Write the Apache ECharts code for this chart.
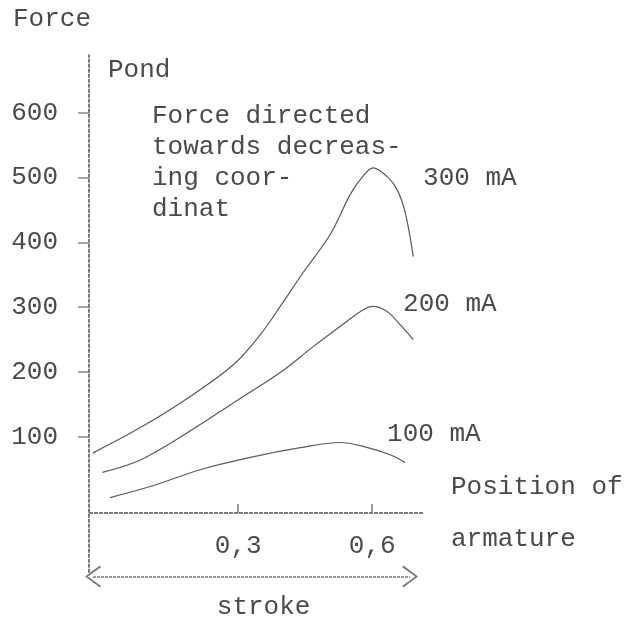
<!DOCTYPE html>
<html>
<head>
<meta charset="utf-8">
<script src="https://cdn.jsdelivr.net/npm/echarts@6/dist/echarts.min.js"></script>
<style>
  html, body { margin: 0; padding: 0; background: #fff; }
  #chart { width: 641px; height: 628px; }
</style>
</head>
<body>
<div id="chart"></div>
<script>
// Armature position (fraction of stroke) and force in pond for three coil currents
const pos300 = [-0.025, 0.081, 0.186, 0.289, 0.349, 0.401, 0.445, 0.506, 0.551, 0.578, 0.602, 0.634, 0.656, 0.674, 0.692];
const force300 = [75, 114, 159, 211, 257, 308, 353, 412, 474, 501, 515, 501, 481, 446, 378];

const pos200 = [-0.004, 0.081, 0.186, 0.289, 0.394, 0.468, 0.528, 0.580, 0.602, 0.634, 0.656, 0.692];
const force200 = [45, 64, 106, 152, 199, 239, 270, 296, 301, 293, 278, 250];

const pos100 = [0.013, 0.103, 0.215, 0.327, 0.439, 0.528, 0.580, 0.640, 0.674];
const force100 = [6, 23, 49, 68, 83, 91, 85, 72, 60];

const currents = ['300 mA', '200 mA', '100 mA'];
const peakIndex = [10, 8, 5];

const yTicks = [100, 200, 300, 400, 500, 600];
const xTicks = [0.3, 0.6];
const xRange = [-0.034, 0.716];
const yRange = [-200, 700];
const forceAxisSpan = [-110, 690];   // drawn extent of the force axis
const xAxisLevel = -17;              // value where the position axis is drawn
const strokeSpan = [-0.025, 0.685];
const strokeLevel = -116;

const FONT = '"Liberation Mono", "DejaVu Sans Mono", monospace';
const INK = '#4a4a4a';
const AXIS = '#7a7a7a';
const FS = 26;

function pairs(xs, ys) { return xs.map((x, i) => [x, ys[i]]); }

const labelOffsets = [[50, 10], [30, -2], [47, -8]];

function curve(idx, xs, ys) {
  const data = pairs(xs, ys).map((p, i) => {
    if (i !== peakIndex[idx]) return p;
    return {
      value: p,
      label: {
        show: true, position: 'right', distance: 0,
        offset: labelOffsets[idx],
        formatter: currents[idx],
        fontFamily: FONT, fontSize: FS, color: INK
      }
    };
  });
  return {
    name: currents[idx], type: 'line', smooth: 0.35, clip: false,
    showSymbol: true, symbol: 'circle', symbolSize: 0,
    lineStyle: { color: '#5a5a5a', width: 1.2 },
    itemStyle: { color: '#5a5a5a' },
    emphasis: { disabled: true },
    data: data
  };
}

const chevron = 'path://M10,0 L20,13 L18.6,14 L10,2.6 L1.4,14 L0,13 Z';

const series = [
  curve(0, pos300, force300),
  curve(1, pos200, force200),
  curve(2, pos100, force100)
];

// force axis and position axis lines
series[0].markLine = {
  silent: true, animation: false,
  symbol: ['none', 'none'],
  lineStyle: { color: AXIS, width: 2, type: [4, 1] },
  label: { show: false },
  data: [
    [{ coord: [xRange[0], xAxisLevel] }, { coord: [xRange[1], xAxisLevel] }],
    [{ coord: [xRange[0], forceAxisSpan[0]] }, { coord: [xRange[0], forceAxisSpan[1]] }]
  ]
};
// stroke arrow under the position axis
series[1].markLine = {
  silent: true, animation: false,
  symbol: [chevron, chevron], symbolSize: [22, 16],
  lineStyle: { color: AXIS, width: 1.5, type: [3, 1] },
  itemStyle: { color: AXIS },
  label: {
    show: true, position: 'insideMiddleBottom', distance: 18,
    formatter: 'stroke', fontFamily: FONT, fontSize: FS, color: INK, offset: [12, 0]
  },
  data: [
    [{ coord: [strokeSpan[0], strokeLevel] }, { coord: [strokeSpan[1], strokeLevel] }]
  ]
};

const chart = echarts.init(document.getElementById('chart'), null, { renderer: 'canvas' });
chart.setOption({
  backgroundColor: '#ffffff',
  animation: false,
  title: {
    text: 'Force', left: 13, top: 6, padding: 0,
    textStyle: { fontFamily: FONT, fontSize: FS, fontWeight: 'normal', color: INK }
  },
  grid: { left: 89, top: 48, width: 335, height: 583, outerBoundsMode: 'none' },
  xAxis: {
    type: 'value', min: xRange[0], max: xRange[1],
    offset: -118,
    axisLine: { show: false, onZero: false },
    axisTick: { show: true, inside: true, length: 9, customValues: xTicks,
                lineStyle: { color: '#777', width: 1.5 } },
    axisLabel: { show: true, customValues: xTicks, margin: 20,
                 formatter: v => String(v).replace('.', ','),
                 fontFamily: FONT, fontSize: FS, color: INK },
    splitLine: { show: false },
    name: 'Position of\narmature', nameLocation: 'end', nameGap: 27,
    nameTextStyle: { fontFamily: FONT, fontSize: FS, color: INK, align: 'left',
                     verticalAlign: 'middle', lineHeight: 52 }
  },
  yAxis: {
    type: 'value', min: yRange[0], max: yRange[1],
    axisLine: { show: false, onZero: false },
    axisTick: { show: true, length: 11, customValues: yTicks, lineStyle: { color: '#888', width: 1.5 } },
    axisLabel: { show: true, customValues: yTicks, margin: 31,
                 fontFamily: FONT, fontSize: FS, color: INK },
    splitLine: { show: false },
    name: 'Pond', nameLocation: 'end', nameGap: -22,
    nameTextStyle: { fontFamily: FONT, fontSize: FS, color: INK, align: 'left',
                     verticalAlign: 'middle', padding: [0, 0, 0, 19] }
  },
  graphic: [{
    type: 'text', left: 152, top: 101, silent: true,
    style: {
      text: 'Force directed\ntowards decreas-\ning coor-\ndinat',
      font: 'normal ' + FS + 'px ' + FONT, fill: INK, lineHeight: 31
    }
  }],
  series: series
});
</script>
</body>
</html>
